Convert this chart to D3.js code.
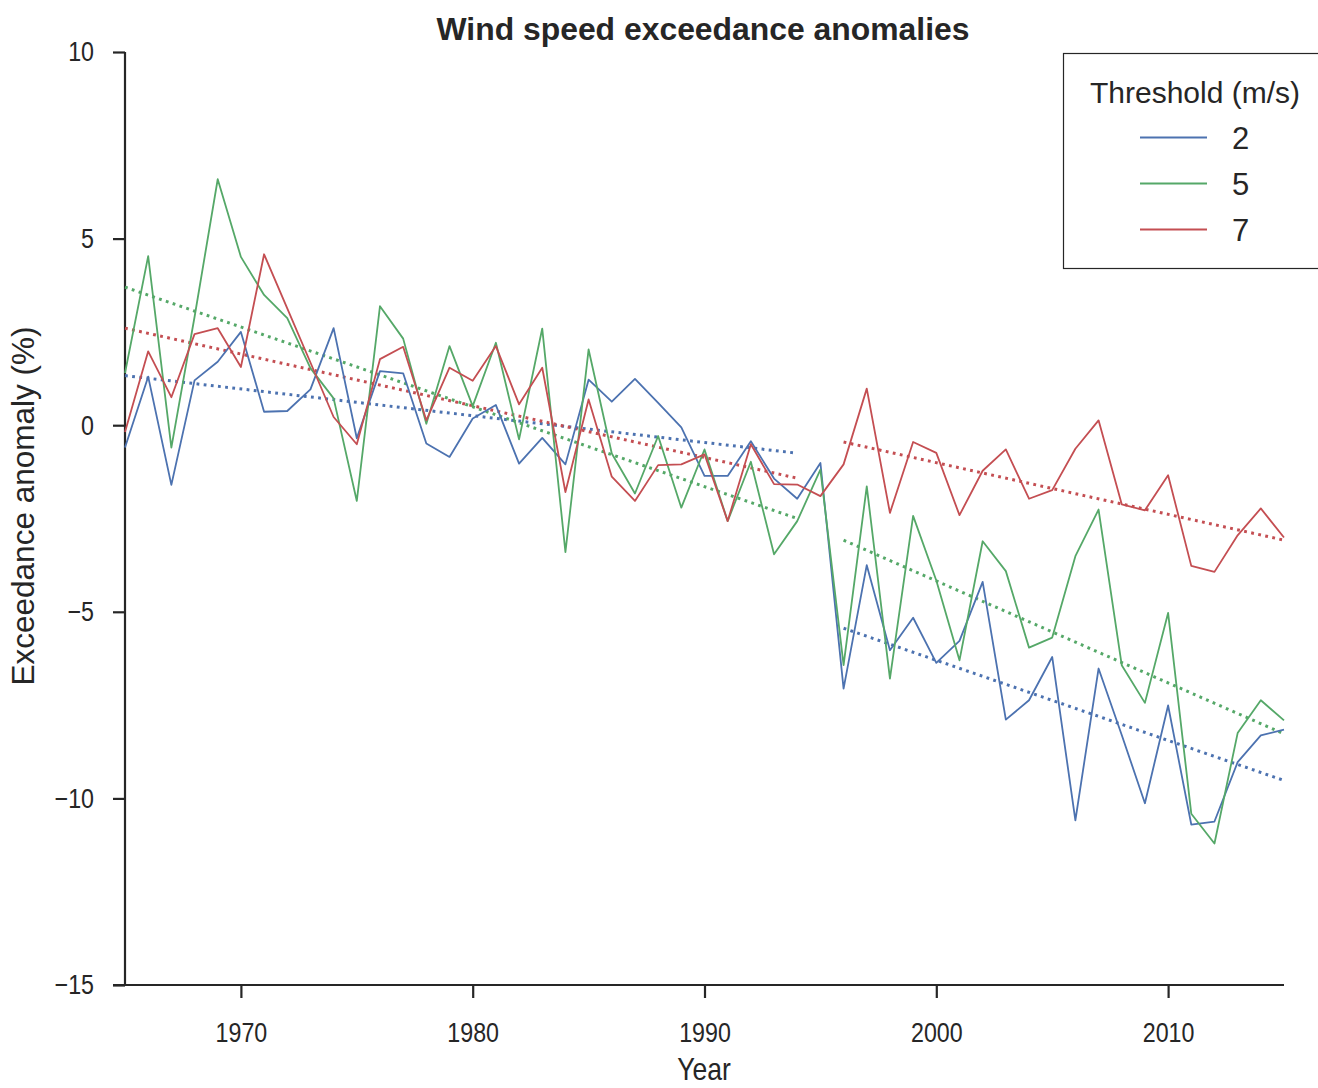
<!DOCTYPE html>
<html>
<head>
<meta charset="utf-8">
<script src="https://cdn.jsdelivr.net/npm/d3@7"></script>
<style>
    body { margin: 0; background: white; }
    svg { display: block; }
</style>
</head>
<body>
<div id="chart"></div>
<script>
    "use strict";

    // years of the series
    var years = d3.range(1965, 2016)

    // threshold 2 m/s
    var values2 = [-0.6, 1.3, -1.6, 1.2, 1.7, 2.5, 0.36, 0.38, 0.96, 2.6,
        -0.35, 1.45, 1.39, -0.49, -0.85, 0.18, 0.54, -1.03, -0.34, -1.05,
        1.22, 0.63, 1.24, 0.6, -0.06, -1.36, -1.36, -0.43, -1.43, -1.97,
        -1.01, -7.06, -3.75, -6.03, -5.16, -6.37, -5.78, -4.2, -7.89, -7.37,
        -6.21, -10.59, -6.52, -8.3, -10.13, -7.51, -10.7, -10.62, -9.03, -8.31,
        -8.16]
    // threshold 5 m/s
    var values5 = [1.4, 4.53, -0.6, 2.9, 6.59, 4.51, 3.49, 2.87, 1.53, 0.72,
        -2.03, 3.19, 2.32, 0.04, 2.12, 0.51, 2.21, -0.38, 2.59, -3.4,
        2.03, -0.76, -1.83, -0.29, -2.21, -0.65, -2.57, -0.98, -3.46, -2.57,
        -1.19, -6.43, -1.64, -6.79, -2.43, -4.16, -6.3, -3.11, -3.91, -5.96,
        -5.69, -3.51, -2.26, -6.43, -7.44, -5.03, -10.41, -11.21, -8.25, -7.37,
        -7.91]
    // threshold 7 m/s
    var values7 = [-0.18, 1.98, 0.75, 2.44, 2.6, 1.56, 4.58, 3.13, 1.68, 0.22,
        -0.51, 1.77, 2.1, 0.13, 1.54, 1.19, 2.12, 0.56, 1.54, -1.79,
        0.69, -1.38, -2.03, -1.07, -1.05, -0.78, -2.57, -0.51, -1.58, -1.59,
        -1.9, -1.05, 0.98, -2.35, -0.45, -0.74, -2.41, -1.22, -0.65, -1.97,
        -1.74, -0.63, 0.13, -2.12, -2.28, -1.34, -3.77, -3.93, -2.95, -2.23,
        -3.01]

    // trend segments: [startYear, endYear]
    var trendPeriods = [[1965, 1994], [1996, 2015]]
    // trend values at the start and end of each period
    var trend2 = [[1.33, -0.75], [-5.44, -9.52]]
    var trend5 = [[3.7, -2.5], [-3.08, -8.27]]
    var trend7 = [[2.6, -1.42], [-0.45, -3.08]]

    var thresholds = ["2", "5", "7"]
    var colors = ["#4c72b0", "#55a868", "#c44e52"]
    var yTicks = [10, 5, 0, -5, -10, -15]
    var xTicks = [1970, 1980, 1990, 2000, 2010]

    var series = [
        { name: thresholds[0], values: values2, trend: trend2, color: colors[0] },
        { name: thresholds[1], values: values5, trend: trend5, color: colors[1] },
        { name: thresholds[2], values: values7, trend: trend7, color: colors[2] }
    ]

    var width = 1318
    var height = 1088
    var margin = { top: 52, right: 34, bottom: 103, left: 125 }
    var axisColor = "#262626"
    var font = "'Liberation Sans', Arial, sans-serif"
    var narrowK = 0.83 // horizontal squeeze, mimics a narrow face

    var svg = d3.select("#chart").append("svg")
        .attr("width", width)
        .attr("height", height)
        .style("font-family", font)

    var x = d3.scaleLinear()
        .domain([1965, 2015])
        .range([margin.left, width - margin.right])
    var y = d3.scaleLinear()
        .domain([-15, 10])
        .range([height - margin.bottom, margin.top])

    var fmt = function(d) { return d < 0 ? "\u2212" + Math.abs(d) : String(d) }

    // axes
    var yAxis = svg.append("g")
        .attr("transform", "translate(" + margin.left + ",0)")
        .call(d3.axisLeft(y).tickValues(yTicks).tickSize(12).tickPadding(19)
            .tickFormat(fmt))
    var xAxis = svg.append("g")
        .attr("transform", "translate(0," + (height - margin.bottom) + ")")
        .call(d3.axisBottom(x).tickValues(xTicks).tickSize(13).tickPadding(24)
            .tickFormat(d3.format("d")))

    ;[yAxis, xAxis].forEach(function(ax) {
        ax.select(".domain").attr("stroke", axisColor).attr("stroke-width", 2.2)
        ax.selectAll(".tick line").attr("stroke", axisColor).attr("stroke-width", 2.2)
        ax.selectAll(".tick text")
            .attr("fill", axisColor)
            .style("font-family", font)
            .style("font-size", "28px")
            .attr("x", function() { return (+d3.select(this).attr("x") || 0) / narrowK })
            .attr("transform", "scale(" + narrowK + ",1)")
    })
    // no outer tick stubs on the domain ends
    yAxis.select(".domain").attr("d", "M0," + y(10) + "V" + y(-15))
    xAxis.select(".domain").attr("d", "M" + (margin.left - 12) + ",0H" + x(2015))

    // trend lines (dotted)
    series.forEach(function(s) {
        s.trend.forEach(function(t, i) {
            var p = trendPeriods[i]
            svg.append("line")
                .attr("x1", x(p[0])).attr("y1", y(t[0]))
                .attr("x2", x(p[1])).attr("y2", y(t[1]))
                .attr("stroke", s.color)
                .attr("stroke-width", 3)
                .attr("stroke-dasharray", "2.8,4.4")
        })
    })

    // data lines
    var line = d3.line()
        .x(function(d, i) { return x(years[i]) })
        .y(function(d) { return y(d) })

    series.forEach(function(s) {
        svg.append("path")
            .datum(s.values)
            .attr("d", line)
            .attr("fill", "none")
            .attr("stroke", s.color)
            .attr("stroke-width", 1.8)
            .attr("stroke-linejoin", "round")
    })

    // title and axis labels
    svg.append("text")
        .attr("x", 703)
        .attr("y", 40)
        .attr("text-anchor", "middle")
        .style("font-weight", "bold")
        .style("font-size", "31px")
        .attr("fill", axisColor)
        .attr("textLength", 533)
        .attr("lengthAdjust", "spacingAndGlyphs")
        .text("Wind speed exceedance anomalies")

    svg.append("text")
        .attr("transform", "translate(704,1080) scale(" + narrowK + ",1)")
        .attr("text-anchor", "middle")
        .style("font-size", "32px")
        .attr("fill", axisColor)
        .text("Year")

    svg.append("text")
        .attr("transform", "translate(34,506) rotate(-90)")
        .attr("text-anchor", "middle")
        .style("font-size", "31.5px")
        .attr("fill", axisColor)
        .text("Exceedance anomaly (%)")

    // legend
    var legend = svg.append("g").attr("transform", "translate(1063,53)")
    legend.append("rect")
        .attr("x", 0.5).attr("y", 0.5)
        .attr("width", 262).attr("height", 215)
        .attr("fill", "white")
        .attr("stroke", axisColor)
        .attr("stroke-width", 1.2)
    legend.append("text")
        .attr("x", 27).attr("y", 50)
        .style("font-size", "30px")
        .attr("fill", axisColor)
        .text("Threshold (m/s)")
    var items = legend.selectAll("g.item").data(series).enter()
        .append("g").attr("class", "item")
        .attr("transform", function(d, i) { return "translate(0," + (84.5 + i * 46) + ")" })
    items.append("line")
        .attr("x1", 77).attr("x2", 144)
        .attr("stroke", function(d) { return d.color })
        .attr("stroke-width", 2)
    items.append("text")
        .attr("x", 169).attr("y", 11)
        .style("font-size", "31px")
        .attr("fill", axisColor)
        .text(function(d) { return d.name })
</script>
</body>
</html>
